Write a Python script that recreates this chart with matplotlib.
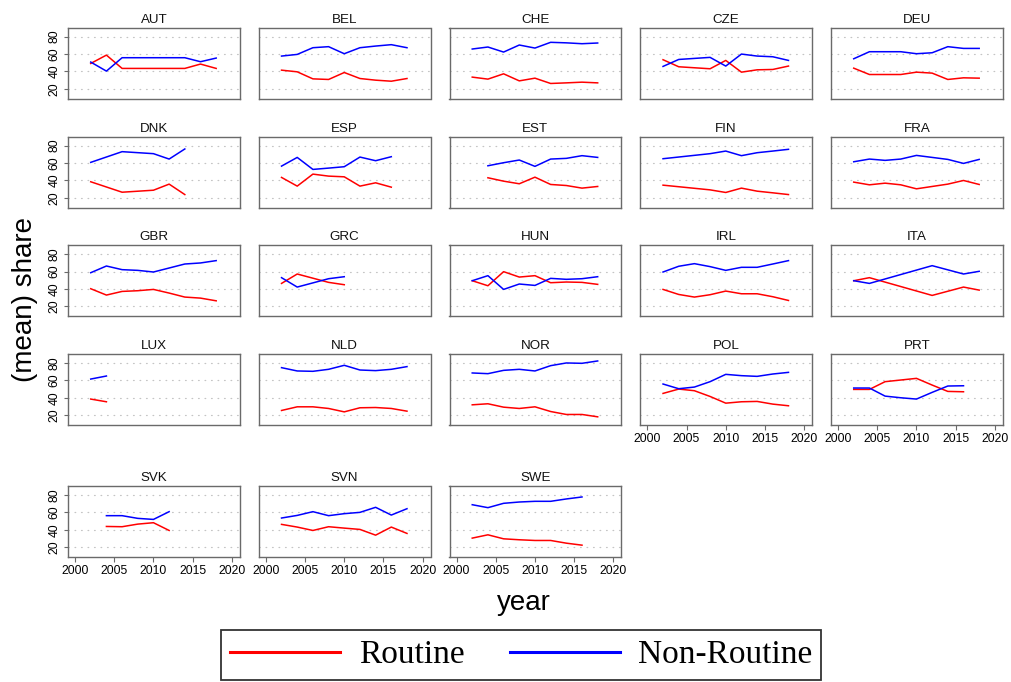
import matplotlib
matplotlib.use("Agg")
import matplotlib.pyplot as plt
from matplotlib.lines import Line2D

# ---------------- data ----------------
countries = ["AUT", "BEL", "CHE", "CZE", "DEU",
             "DNK", "ESP", "EST", "FIN", "FRA",
             "GBR", "GRC", "HUN", "IRL", "ITA",
             "LUX", "NLD", "NOR", "POL", "PRT",
             "SVK", "SVN", "SWE"]

AUT_year = [2002, 2004, 2006, 2014, 2016, 2018]
AUT_routine = [49.2, 58.8, 43.5, 43.5, 48.5, 43.5]
AUT_nonroutine = [50.8, 40.4, 55.8, 55.8, 51.2, 55.4]

BEL_year = [2002, 2004, 2006, 2008, 2010, 2012, 2014, 2016, 2018]
BEL_routine = [41.5, 39.6, 31.5, 30.8, 38.8, 31.9, 30.0, 28.8, 31.9]
BEL_nonroutine = [57.7, 59.6, 67.3, 68.5, 60.4, 67.3, 69.2, 70.8, 67.3]

CHE_year = [2002, 2004, 2006, 2008, 2010, 2012, 2014, 2016, 2018]
CHE_routine = [33.5, 31.2, 37.3, 29.2, 32.3, 26.2, 26.9, 27.7, 26.9]
CHE_nonroutine = [65.8, 68.1, 62.3, 70.4, 66.9, 73.5, 72.9, 71.9, 72.7]

CZE_year = [2002, 2004, 2008, 2010, 2012, 2014, 2016, 2018]
CZE_routine = [53.5, 45.4, 43.1, 52.7, 39.2, 41.9, 42.3, 46.2]
CZE_nonroutine = [45.8, 53.8, 56.2, 46.2, 60.0, 57.7, 56.9, 52.7]

DEU_year = [2002, 2004, 2006, 2008, 2010, 2012, 2014, 2016, 2018]
DEU_routine = [43.8, 36.5, 36.5, 36.5, 39.2, 38.1, 30.8, 32.7, 32.3]
DEU_nonroutine = [54.6, 62.7, 62.7, 62.7, 60.4, 61.5, 68.5, 66.5, 66.5]

DNK_year = [2002, 2006, 2010, 2012, 2014]
DNK_routine = [38.5, 26.5, 28.8, 35.8, 23.8]
DNK_nonroutine = [60.8, 73.1, 70.8, 64.6, 76.2]

ESP_year = [2002, 2004, 2006, 2008, 2010, 2012, 2014, 2016]
ESP_routine = [43.5, 33.5, 47.3, 45.0, 44.2, 33.5, 37.3, 32.3]
ESP_nonroutine = [56.5, 66.5, 52.7, 54.2, 55.8, 66.9, 62.7, 67.3]

EST_year = [2004, 2006, 2008, 2010, 2012, 2014, 2016, 2018]
EST_routine = [43.1, 39.2, 36.2, 43.8, 35.4, 34.2, 31.2, 33.1]
EST_nonroutine = [56.9, 60.4, 63.5, 56.2, 64.6, 65.4, 68.5, 66.5]

FIN_year = [2002, 2008, 2010, 2012, 2014, 2016, 2018]
FIN_routine = [34.6, 29.2, 26.2, 31.2, 27.7, 25.8, 23.8]
FIN_nonroutine = [65.0, 70.8, 73.8, 68.5, 71.9, 73.8, 75.8]

FRA_year = [2002, 2004, 2006, 2008, 2010, 2012, 2014, 2016, 2018]
FRA_routine = [38.1, 35.0, 36.9, 35.0, 30.4, 33.1, 35.8, 40.0, 35.4]
FRA_nonroutine = [61.5, 64.6, 63.1, 64.6, 68.8, 66.5, 64.2, 59.6, 64.2]

GBR_year = [2002, 2004, 2006, 2008, 2010, 2012, 2014, 2016, 2018]
GBR_routine = [40.4, 33.1, 37.3, 38.1, 39.6, 35.4, 30.8, 29.6, 26.5]
GBR_nonroutine = [58.8, 66.5, 62.3, 61.5, 59.6, 64.2, 68.8, 70.0, 72.7]

GRC_year = [2002, 2004, 2008, 2010]
GRC_routine = [46.5, 57.3, 47.7, 45.0]
GRC_nonroutine = [53.1, 42.3, 51.9, 54.2]

HUN_year = [2002, 2004, 2006, 2008, 2010, 2012, 2014, 2016, 2018]
HUN_routine = [49.6, 43.8, 60.0, 53.8, 55.4, 47.3, 48.1, 47.7, 45.4]
HUN_nonroutine = [49.6, 55.4, 39.6, 45.8, 44.2, 52.3, 51.2, 51.9, 54.2]

IRL_year = [2002, 2004, 2006, 2008, 2010, 2012, 2014, 2016, 2018]
IRL_routine = [39.6, 33.8, 30.8, 33.5, 37.7, 34.6, 34.6, 31.2, 26.9]
IRL_nonroutine = [59.6, 66.2, 69.2, 65.8, 61.5, 65.0, 65.0, 68.8, 72.7]

ITA_year = [2002, 2004, 2012, 2016, 2018]
ITA_routine = [49.6, 53.1, 32.7, 42.3, 38.8]
ITA_nonroutine = [49.6, 46.5, 66.9, 57.3, 60.4]

LUX_year = [2002, 2004]
LUX_routine = [38.5, 35.4]
LUX_nonroutine = [61.5, 65.0]

NLD_year = [2002, 2004, 2006, 2008, 2010, 2012, 2014, 2016, 2018]
NLD_routine = [25.4, 29.6, 29.6, 27.7, 23.8, 28.5, 28.8, 27.7, 24.6]
NLD_nonroutine = [74.6, 70.8, 70.4, 72.7, 77.3, 71.9, 71.2, 72.7, 75.8]

NOR_year = [2002, 2004, 2006, 2008, 2010, 2012, 2014, 2016, 2018]
NOR_routine = [31.9, 33.1, 29.2, 27.7, 29.6, 24.2, 20.8, 20.8, 18.1]
NOR_nonroutine = [68.5, 67.7, 71.5, 72.7, 70.8, 76.9, 80.0, 79.6, 82.3]

POL_year = [2002, 2004, 2006, 2008, 2010, 2012, 2014, 2016, 2018]
POL_routine = [45.0, 50.0, 48.1, 41.5, 33.8, 35.4, 35.8, 32.7, 30.8]
POL_nonroutine = [55.8, 50.4, 52.3, 58.5, 66.9, 65.4, 64.6, 67.3, 69.2]

PRT_year = [2002, 2004, 2006, 2008, 2010, 2012, 2014, 2016]
PRT_routine = [49.6, 49.6, 58.5, 60.4, 62.3, 54.6, 47.3, 46.9]
PRT_nonroutine = [51.2, 51.2, 41.9, 40.0, 38.5, 46.2, 53.5, 53.8]

SVK_year = [2004, 2006, 2008, 2010, 2012]
SVK_routine = [43.8, 43.5, 46.5, 48.1, 39.2]
SVK_nonroutine = [56.2, 56.2, 53.1, 51.9, 60.8]

SVN_year = [2002, 2004, 2006, 2008, 2010, 2012, 2014, 2016, 2018]
SVN_routine = [46.2, 43.1, 39.2, 43.5, 41.9, 40.4, 33.8, 43.1, 35.8]
SVN_nonroutine = [53.5, 56.5, 60.8, 56.2, 58.5, 60.0, 65.8, 56.9, 64.2]

SWE_year = [2002, 2004, 2006, 2008, 2010, 2012, 2014, 2016]
SWE_routine = [30.4, 34.2, 29.6, 28.5, 27.7, 27.7, 24.6, 22.3]
SWE_nonroutine = [68.8, 65.4, 70.4, 71.9, 72.7, 72.7, 75.4, 77.7]

x_ticks = [2000, 2005, 2010, 2015, 2020]
y_ticks = [20, 40, 60, 80]
series_labels = ["Routine", "Non-Routine"]

# ---------------- layout ----------------
W, H = 1011, 682
fig = plt.figure(figsize=(W / 100, H / 100), dpi=100)
fig.patch.set_facecolor("white")

col_left = [68, 258.8, 449.5, 640.3, 831]
row_top = [27.7, 136.7, 245.3, 354, 486]
ax_w, ax_h = 171.7, 71
ncol = 5
xlab_panels = {"POL", "PRT", "SVK", "SVN", "SWE"}

g = globals()
frame_col = "#6a6a6a"
sans = "Liberation Sans"

for i, c in enumerate(countries):
    r, k = divmod(i, ncol)
    l = col_left[k]
    t = row_top[r]
    ax = fig.add_axes([l / W, 1 - (t + ax_h) / H, ax_w / W, ax_h / H])
    ax.set_xlim(1999.1, 2021.0)
    ax.set_ylim(8.7, 90.3)
    for yv in y_ticks:
        ax.axhline(yv, color="#c4c4c4", lw=0.9, ls=(0, (0.6, 4.6)),
                   dash_capstyle="round", zorder=0)
    ax.plot(g[c + "_year"], g[c + "_routine"], color="#ff0000", lw=1.1, zorder=2)
    ax.plot(g[c + "_year"], g[c + "_nonroutine"], color="#0000ff", lw=1.1, zorder=2)
    for s in ax.spines.values():
        s.set_color(frame_col)
        s.set_linewidth(1.0)
    ax.set_title(c, fontsize=9.6, family=sans, pad=3.6, color="#111111")
    if k == 0:
        ax.set_yticks(y_ticks)
        ax.set_yticklabels([str(v) for v in y_ticks], rotation=90, va="center",
                           fontsize=8.7, family=sans)
        ax.tick_params(axis="y", length=3.1, width=0.8, color=frame_col, pad=2.5)
    else:
        ax.set_yticks([])
    if c in xlab_panels:
        ax.set_xticks(x_ticks)
        ax.set_xticklabels([str(v) for v in x_ticks], fontsize=8.7, family=sans)
        ax.tick_params(axis="x", length=3.5, width=0.8, color=frame_col, pad=2.5)
    else:
        ax.set_xticks([])

fig.text(524 / W, 1 - 610 / H, "year", fontsize=20, family=sans,
         ha="center", va="baseline")
fig.text(31.7 / W, 1 - 299 / H, "(mean) share", fontsize=20, family=sans,
         rotation=90, rotation_mode="anchor", ha="center", va="baseline")

handles = [Line2D([], [], color="#ff0000", lw=2.2),
           Line2D([], [], color="#0000ff", lw=2.2)]
leg = fig.legend(handles, series_labels, loc="center",
                 bbox_to_anchor=(521.2 / W, 1 - 655 / H), ncol=2,
                 prop={"family": "Liberation Serif", "size": 24},
                 handlelength=3.3, handletextpad=0.55, columnspacing=1.36,
                 borderpad=0.28, frameon=True, fancybox=False)
fr = leg.get_frame()
fr.set_edgecolor("black")
fr.set_linewidth(1.3)

fig.savefig("out.png", dpi=100, facecolor="white")
